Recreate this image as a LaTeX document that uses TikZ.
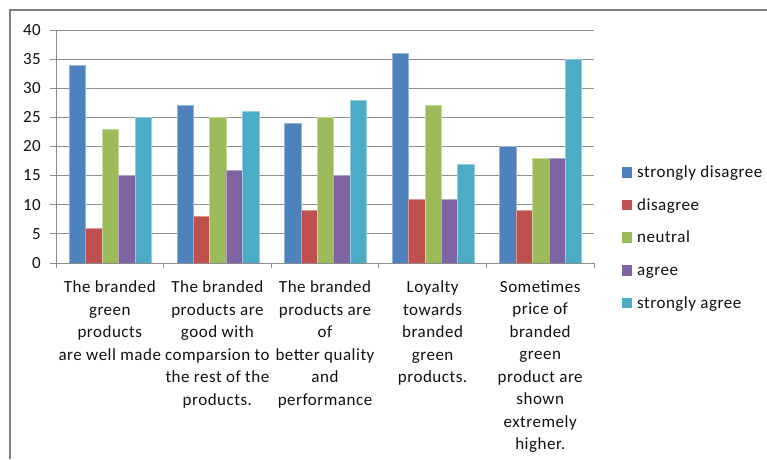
\documentclass[tikz,border=0pt]{standalone}
\usepackage{fontspec}
\setmainfont{Carlito}[LetterSpace=3]
\definecolor{cA}{HTML}{4F81BD}
\definecolor{cB}{HTML}{C0504D}
\definecolor{cC}{HTML}{9BBB59}
\definecolor{cD}{HTML}{8064A2}
\definecolor{cE}{HTML}{4BACC6}
\definecolor{gridgray}{HTML}{8C8C8C}
\definecolor{textgray}{HTML}{111111}
\tikzset{
  frameline/.style={draw=gridgray!90!black, line width=1.3pt},
  gridline/.style={draw=gridgray, line width=1pt},
  axisline/.style={draw=gridgray, line width=1pt},
  bar/.style={line width=0.6pt},
  catlabel/.style={anchor=north, inner sep=0pt, align=center, text=textgray},
  ylabel/.style={anchor=base east, inner sep=0pt, text=textgray},
  legtext/.style={anchor=base west, inner sep=0pt, text=textgray},
}
\begin{document}
\begin{tikzpicture}[x=1pt,y=-1pt,font=\fontsize{17}{22.5}\selectfont]
\useasboundingbox (0,0) rectangle (767,459);
\fill[white] (0,0) rectangle (767,459);
% outer frame (only top and left edges visible)
\draw[frameline] (10,459) -- (10,10) -- (767,10);
% gridlines and y labels
\foreach \v in {5,10,...,40}{
  \draw[gridline] (56,{263-\v*5.825}) -- (594,{263-\v*5.825});
}
\foreach \v in {0,5,...,40}{
  \draw[axisline] (50,{263-\v*5.825}) -- (56,{263-\v*5.825});
  \node[ylabel] (y\v) at (41,{263-\v*5.825+5.3}) {\v};
}
% bars
\foreach \c/\vals [count=\j from 0] in {cA/{34,27,24,36,20},cB/{6,8,9,11,9},cC/{23,25,25,27,18},cD/{15,16,15,11,18},cE/{25,26,28,17,35}}{
  \foreach \v [count=\i from 0] in \vals {
    \filldraw[bar, fill=\c, draw=\c!60!white] ({56+\i*107.6+13.3+\j*16.4},263) rectangle ++(16.4,{-\v*5.825});
  }
}
% axes
\draw[axisline] (56,30) -- (56,263);
\draw[axisline] (56,263) -- (594,263);
\foreach \i in {0,...,5}{
  \draw[axisline] ({56+\i*107.6},263) -- ++(0,5);
}
% category labels
\node[catlabel] (c1) at (109.8,280.5) {The branded\\green\\products\\are well made};
\node[catlabel] (c2) at (217.4,280.5) {The branded\\products are\\good with\\comparsion to\\the rest of the\\products.};
\node[catlabel] (c3) at (325,280.5) {The branded\\products are\\of\\better quality\\and\\performance};
\node[catlabel] (c4) at (432.6,280.5) {Loyalty\\towards\\branded\\green\\products.};
\node[catlabel] (c5) at (540.2,280.5) {Sometimes\\price of\\branded\\green\\product are\\shown\\extremely\\higher.};
% legend
\foreach \c/\t/\yy [count=\k] in {cA/strongly disagree/177.7,cB/disagree/210.3,cC/neutral/242.7,cD/agree/275.7,cE/strongly agree/308.3}{
  \fill[\c] (621.7,\yy) rectangle ++(10.6,-10.6);
  \node[legtext] (l\k) at (637,\yy) {\t};
}
\end{tikzpicture}
\end{document}
